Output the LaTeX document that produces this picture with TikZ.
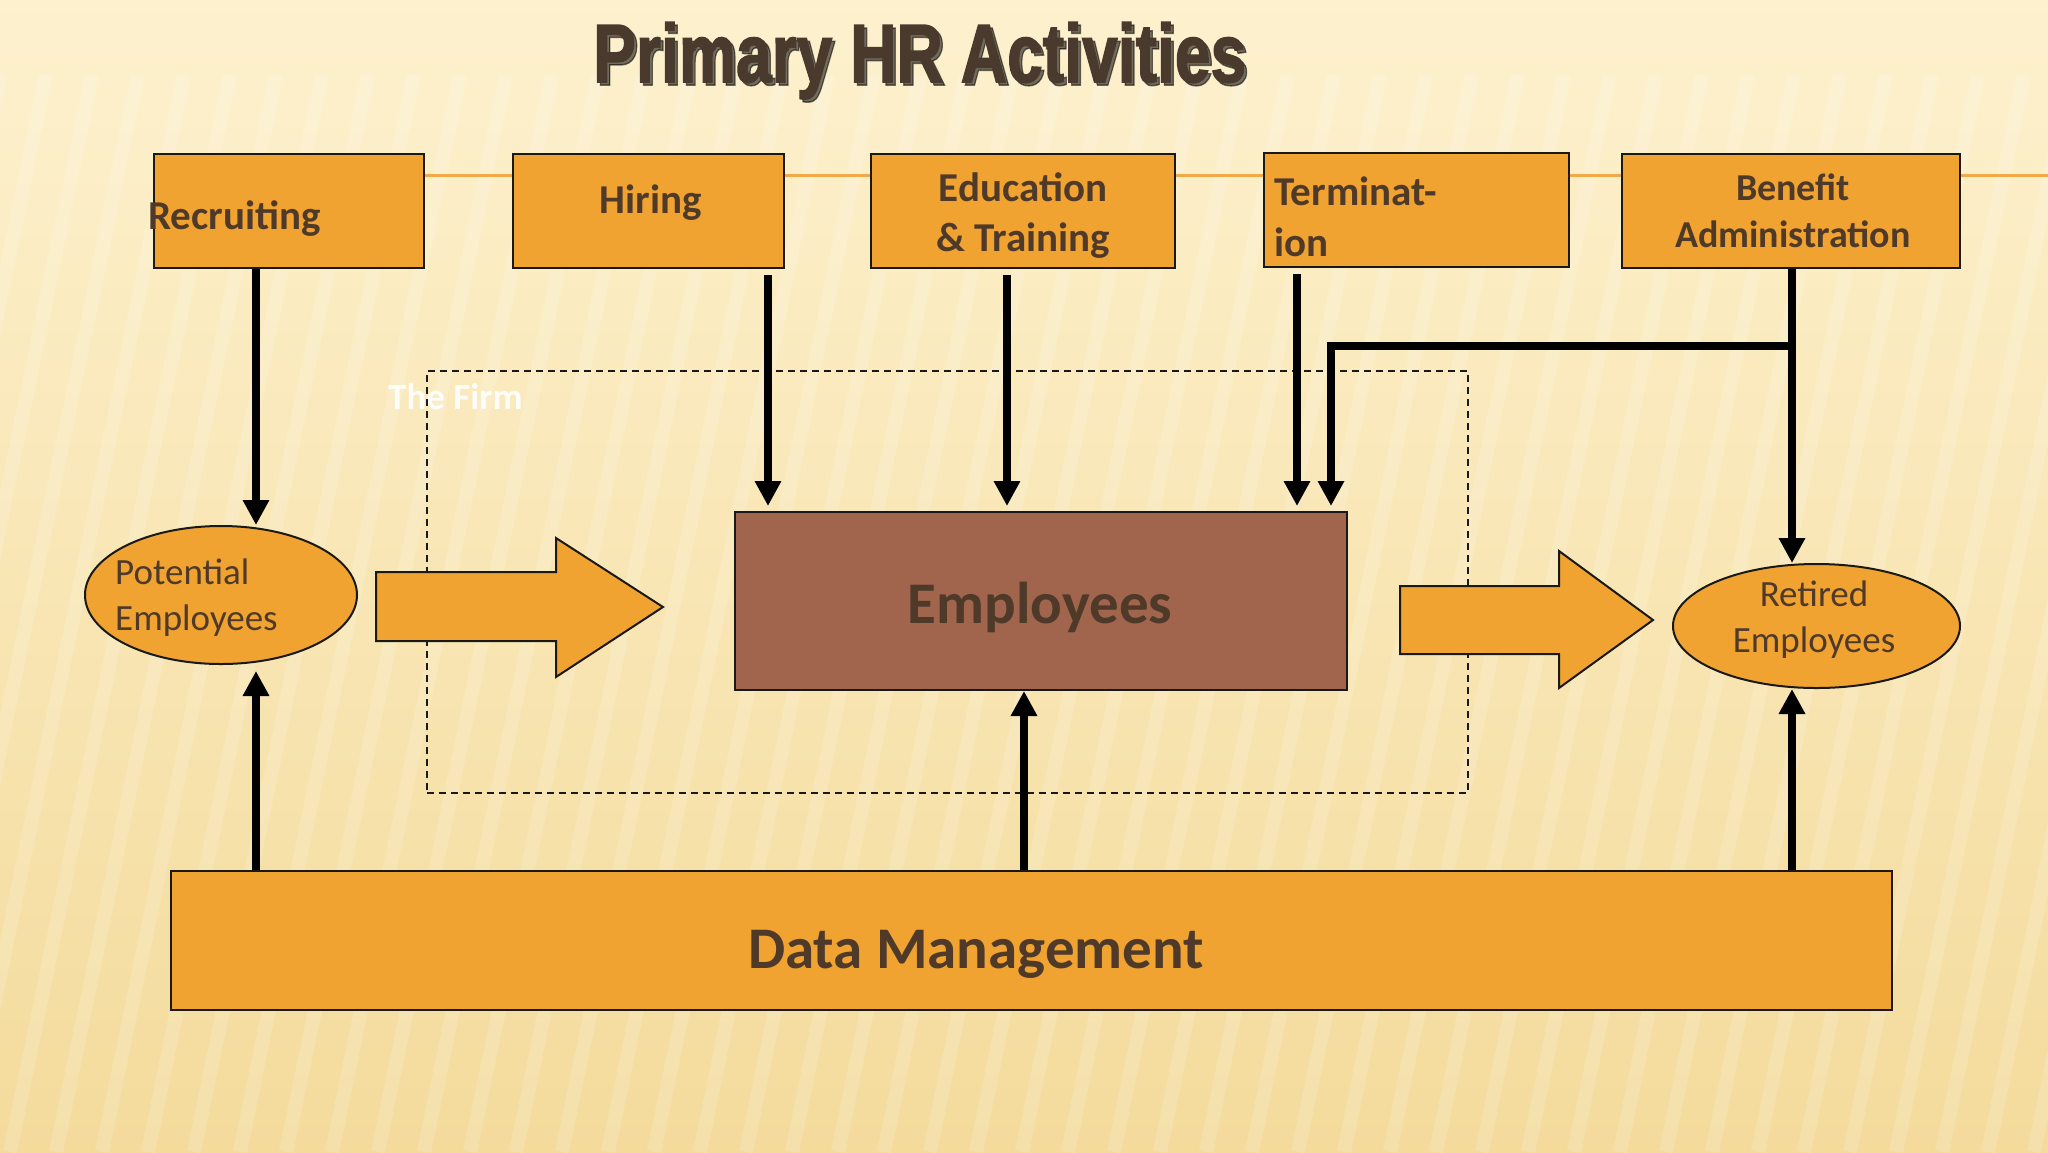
\documentclass[tikz,border=0pt]{standalone}
\usepackage{fontspec}
\setmainfont{Carlito}
\newfontfamily\titlefont[BoldFeatures={FakeBold=1.8}]{Liberation Sans}
\usetikzlibrary{arrows.meta,calc,shapes.geometric}
\definecolor{bgtop}{HTML}{FDF1CE}
\definecolor{bgmid}{HTML}{FAE8B6}
\definecolor{bgbot}{HTML}{F4DB9C}
\definecolor{orng}{HTML}{F0A330}
\definecolor{olin}{HTML}{F2A948}
\definecolor{brn}{HTML}{A1644D}
\definecolor{txt}{HTML}{4F3A2A}
\definecolor{ttl}{HTML}{4A3A2E}
\tikzset{
  box/.style={draw=black!90, line width=2pt, fill=orng, rectangle, inner sep=0pt},
  ell/.style={draw=black!90, line width=2pt, fill=orng, ellipse, inner sep=0pt},
  toplbl/.style={text=txt, font=\fontsize{41}{48}\selectfont\bfseries, inner sep=0pt},
  benlbl/.style={text=txt, font=\fontsize{38}{44}\selectfont\bfseries, inner sep=0pt},
  elbl/.style={text=txt, font=\fontsize{37}{44}\selectfont, inner sep=0pt},
  biglbl/.style={text=txt, font=\fontsize{59}{70}\selectfont\bfseries, inner sep=0pt},
  arr/.style={line width=7.5pt, draw=black, line join=miter, -{Triangle[width=25pt,length=25pt]}},
  blockarrow/.style={draw=black!90, line width=2pt, fill=orng, line join=miter},
  stripe/.style={white, opacity=0.16, line width=14pt},
  firmbox/.style={draw=black!90, line width=2pt, dash pattern=on 7pt off 5pt, rectangle, inner sep=0pt},
}
\begin{document}
\begin{tikzpicture}[x=1pt,y=-1pt]
\useasboundingbox (0,0) rectangle (2048,1152);
\shade[top color=bgtop, middle color=bgmid, bottom color=bgbot] (0,0) rectangle (2048,1152);
\begin{scope}
\clip (0,75) rectangle (2048,1152);
\foreach \i in {-2,...,50} \draw[stripe] (\i*46,75) -- (\i*46-220,1152);
\end{scope}
% top connecting line
\draw[olin, line width=3pt] (424,175) -- (2048,175);
% title
\node[anchor=base west, inner sep=0pt, text=black, text opacity=0.55] (ttlS) at (596,85) {\resizebox{653pt}{60pt}{\titlefont\bfseries Primary HR Activities}};
\node[anchor=base west, inner sep=0pt, text=ttl] (ttl) at (593,82) {\resizebox{653pt}{60pt}{\titlefont\bfseries Primary HR Activities}};
% the firm
\node[font=\fontsize{37}{44}\selectfont\bfseries, text=white, text opacity=0.9, anchor=base west, inner sep=0pt] (firmT) at (388,409) {The Firm};
\node[firmbox, minimum width=1041, minimum height=422] (firm) at (947.5,582) {};
% top boxes
\node[box, minimum width=270, minimum height=114] (rec) at (289,211) {};
\node[box, minimum width=271, minimum height=114] (hir) at (648.5,211) {};
\node[box, minimum width=304, minimum height=114] (edu) at (1023,211) {};
\node[box, minimum width=305, minimum height=114] (ter) at (1416.5,210) {};
\node[box, minimum width=338, minimum height=114] (ben) at (1791,211) {};
\node[toplbl, anchor=base west] (recT) at (148,229) {Recruiting};
\node[toplbl, anchor=base] (hirT) at (651,213) {Hiring};
\node[toplbl, anchor=base] (eduT1) at (1023,201) {Education};
\node[toplbl, anchor=base] (eduT2) at (1023,251) {\& Training};
\node[toplbl, anchor=base west] (terT1) at (1274,205) {Terminat-};
\node[toplbl, anchor=base west] (terT2) at (1274,256) {ion};
\node[benlbl, anchor=base] (benT1) at (1793,200) {Benefit};
\node[benlbl, anchor=base] (benT2) at (1793,247) {Administration};
% middle row
\node[ell, minimum width=272, minimum height=138] (pe) at (221,595) {};
\node[elbl, anchor=base west] (peT1) at (115,584) {Potential};
\node[elbl, anchor=base west] (peT2) at (115,630) {Employees};
\node[box, fill=brn, minimum width=612, minimum height=178] (emp) at (1041,601) {};
\node[biglbl, anchor=base] (empT) at (1040,623) {Employees};
\node[ell, minimum width=287, minimum height=124] (ret) at (1816.5,626) {};
\node[elbl, anchor=base] (retT1) at (1814,606) {Retired};
\node[elbl, anchor=base] (retT2) at (1814,652) {Employees};
% data management
\node[box, minimum width=1721, minimum height=139] (dm) at (1031.5,940.5) {};
\node[biglbl, anchor=base] (dmT) at (976,968) {Data Management};
% block arrows
\draw[blockarrow] (376,572) -- (556,572) -- (556,538) -- (663,607) -- (556,677) -- (556,641) -- (376,641) -- cycle;
\draw[blockarrow] (1400,586) -- (1559,586) -- (1559,551) -- (1653,620) -- (1559,688) -- (1559,654) -- (1400,654) -- cycle;
% arrow x positions
\coordinate (xa) at (256,0);
\coordinate (xb) at (768,0);
\coordinate (xc) at (1007,0);
\coordinate (xd) at (1297,0);
\coordinate (xe) at (1331,0);
\coordinate (xf) at (1792,0);
\coordinate (xg) at (1024,0);
\coordinate (br) at (1792,346);
% down arrows
\draw[arr] (rec.south -| xa) -- (pe.north -| xa);
\draw[arr] ($(hir.south -| xb)+(0,6)$) -- ($(emp.north -| xb)+(0,-5)$);
\draw[arr] ($(edu.south -| xc)+(0,6)$) -- ($(emp.north -| xc)+(0,-5)$);
\draw[arr] ($(ter.south -| xd)+(0,6)$) -- ($(emp.north -| xd)+(0,-5)$);
\draw[arr] (ben.south -| xf) -- (ret.north -| xf);
\draw[arr] (br) -| ($(emp.north -| xe)+(0,-5)$);
% up arrows
\draw[arr] (dm.north -| xa) -- ($(pe.south -| xa)+(0,6)$);
\draw[arr] (dm.north -| xg) -- (emp.south -| xg);
\draw[arr] (dm.north -| xf) -- (ret.south -| xf);
\end{tikzpicture}
\end{document}
